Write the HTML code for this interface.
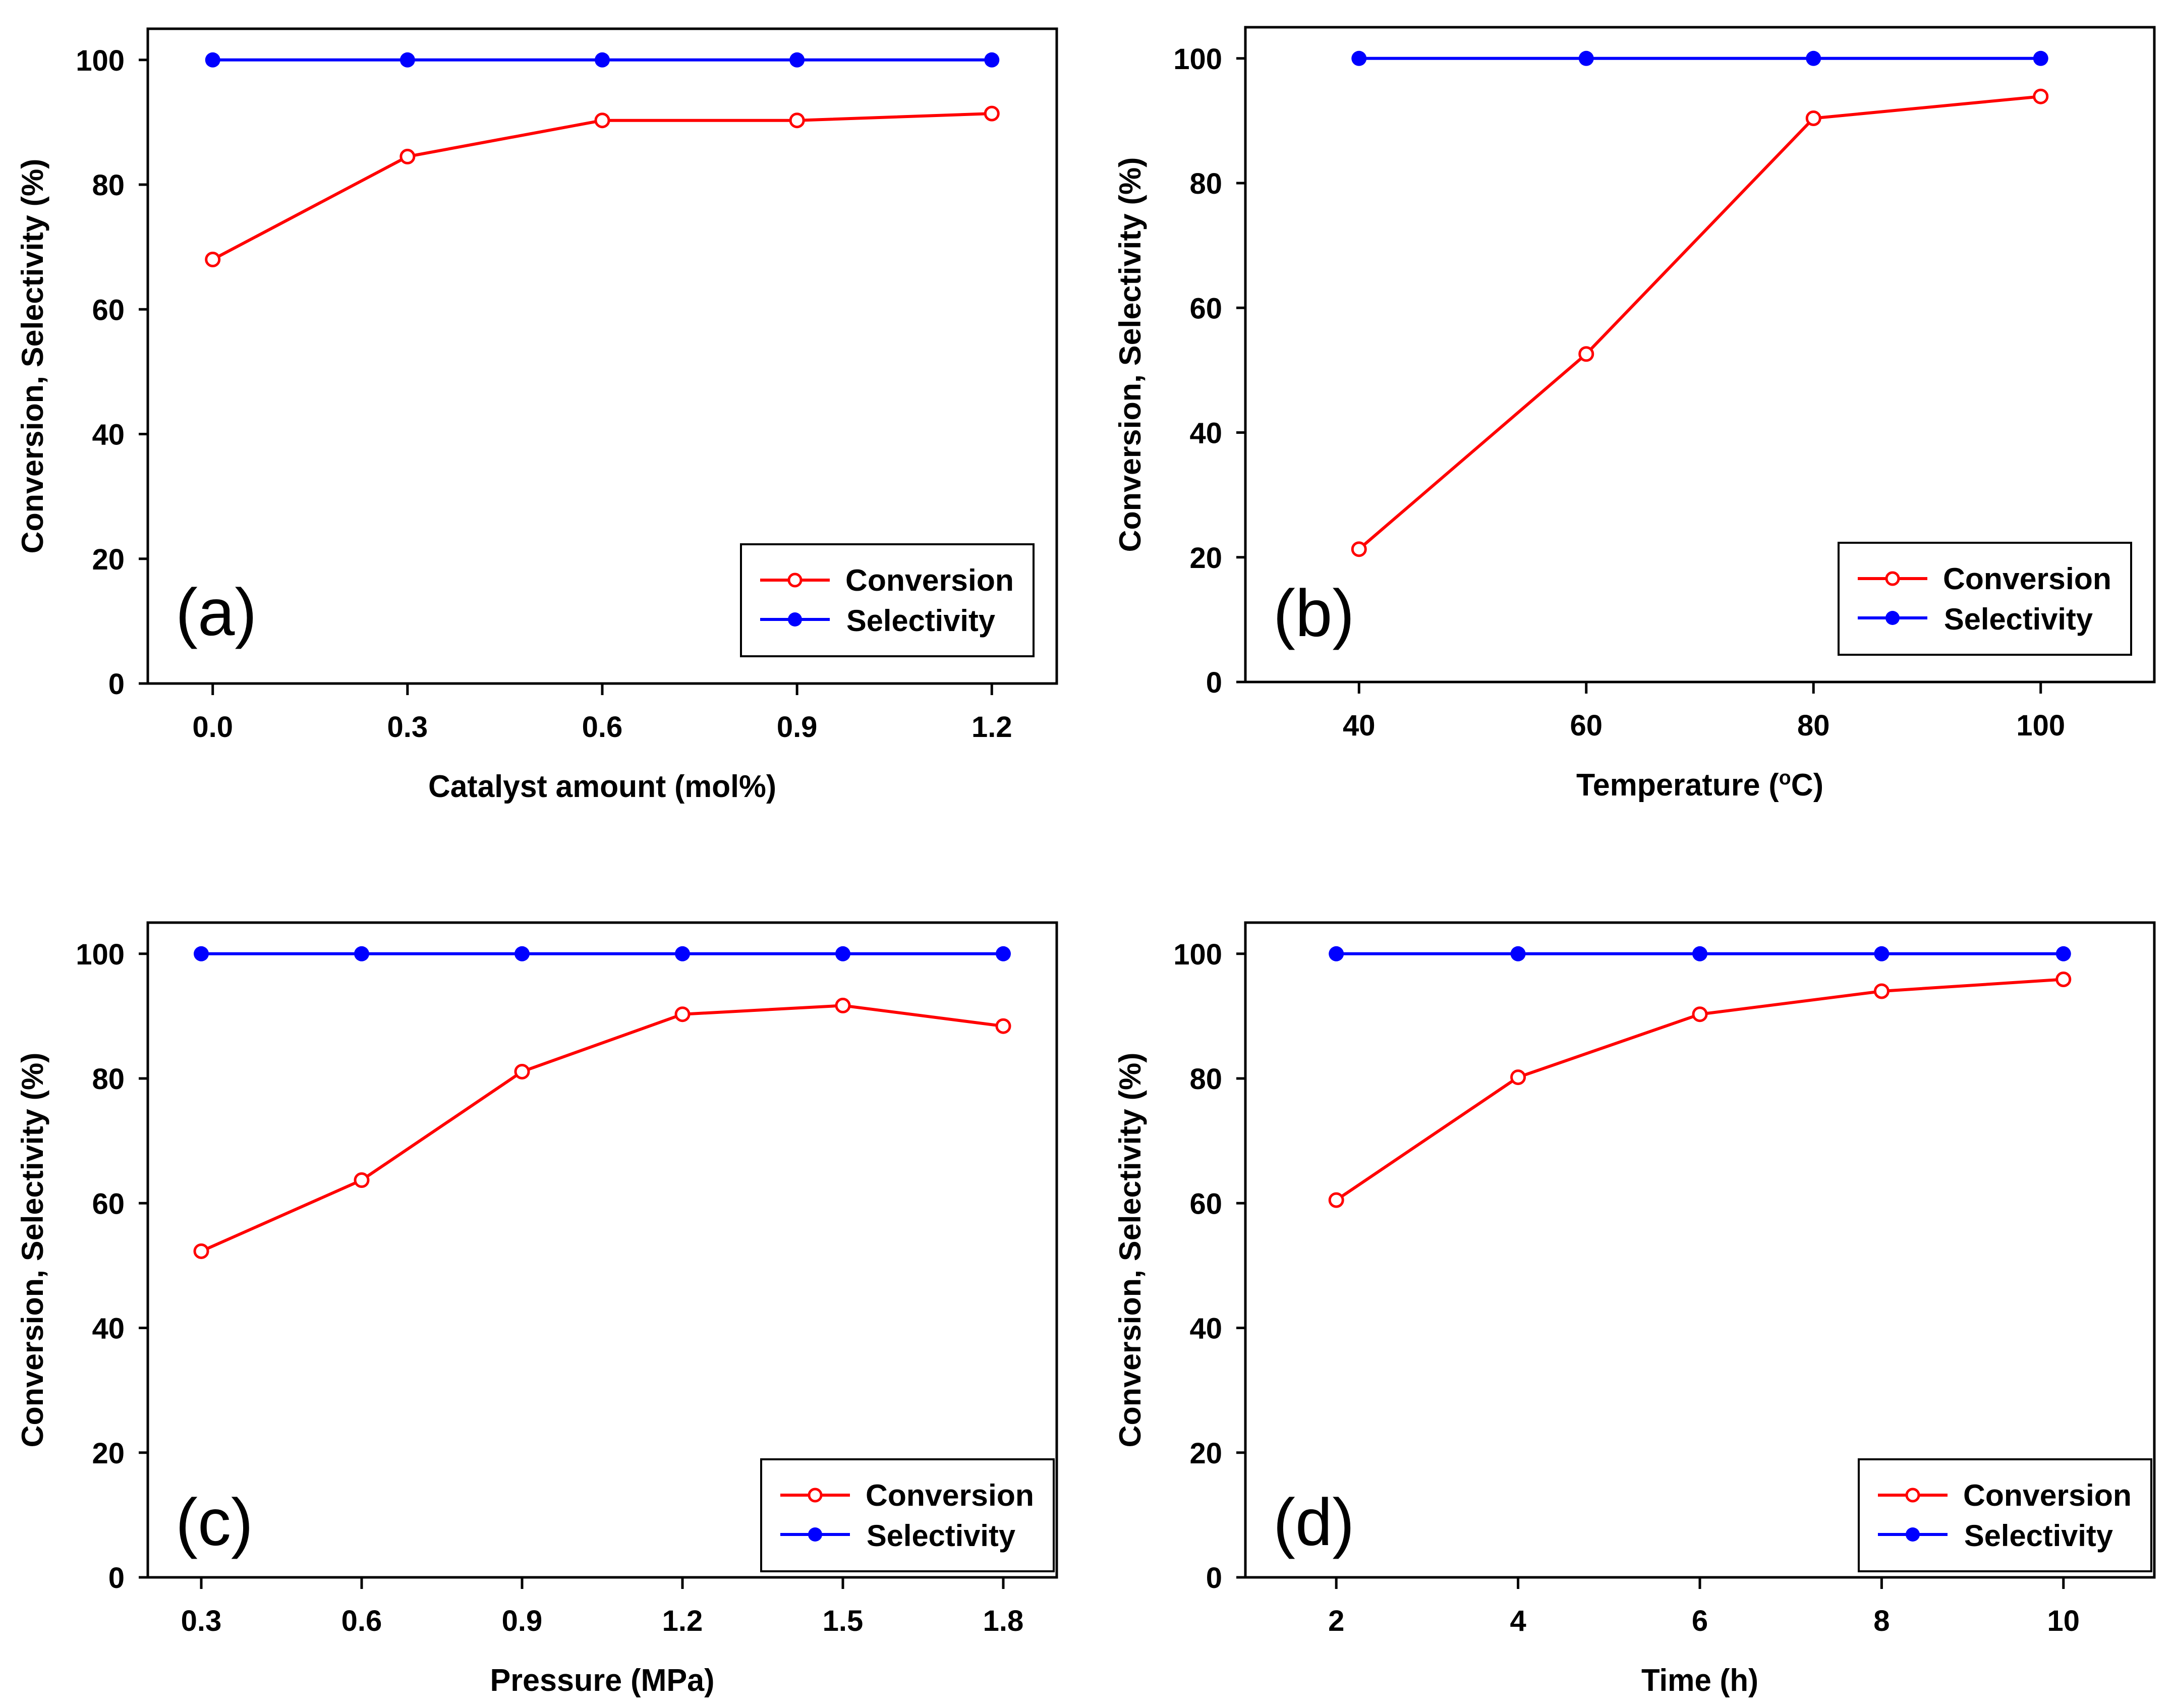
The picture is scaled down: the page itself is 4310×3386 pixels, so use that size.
<!DOCTYPE html>
<html><head><meta charset="utf-8">
<style>
html,body{margin:0;padding:0;background:#fff;}
svg{display:block;}
text{font-family:"Liberation Sans",Arial,sans-serif;}
</style></head>
<body>
<svg id="fig" width="4310" height="3386" viewBox="0 0 4310 3386" xmlns="http://www.w3.org/2000/svg"></svg>
<script>
// Panel (a)
const aCategories = [0.0, 0.3, 0.6, 0.9, 1.2];
const aConversion = [68, 84.5, 90.3, 90.3, 91.4];
const aSelectivity = [100, 100, 100, 100, 100];
const aTickLabels = ["0.0", "0.3", "0.6", "0.9", "1.2"];
// Panel (b)
const bCategories = [40, 60, 80, 100];
const bConversion = [21.3, 52.6, 90.4, 93.9];
const bSelectivity = [100, 100, 100, 100];
const bTickLabels = ["40", "60", "80", "100"];
// Panel (c)
const cCategories = [0.3, 0.6, 0.9, 1.2, 1.5, 1.8];
const cConversion = [52.3, 63.7, 81.1, 90.3, 91.7, 88.4];
const cSelectivity = [100, 100, 100, 100, 100, 100];
const cTickLabels = ["0.3", "0.6", "0.9", "1.2", "1.5", "1.8"];
// Panel (d)
const dCategories = [2, 4, 6, 8, 10];
const dConversion = [60.5, 80.2, 90.3, 94.0, 95.9];
const dSelectivity = [100, 100, 100, 100, 100];
const dTickLabels = ["2", "4", "6", "8", "10"];
const yTicks = [0, 20, 40, 60, 80, 100];
const yTickLabels = ["0", "20", "40", "60", "80", "100"];

const NS = "http://www.w3.org/2000/svg";
const svg = document.getElementById('fig');
function mk(tag, attrs, parent, txt) {
  const e = document.createElementNS(NS, tag);
  for (const k in attrs) e.setAttribute(k, attrs[k]);
  if (txt !== undefined) e.textContent = txt;
  parent.appendChild(e);
  return e;
}

function panel(p) {
  const L = p.left, T = p.top, R = p.left + 1802, B = p.top + 1298;
  const g = mk('g', {}, svg);
  
  
  const xs = v => L + (v - p.xmin) / (p.xmax - p.xmin) * (R - L);
  const ys = v => B - v / 105 * (B - T);

  yTicks.forEach((t, i) => {
    const tk = mk('line', {x1: L - 18, x2: L, y1: ys(t), y2: ys(t), stroke: '#000', 'stroke-width': 5}, g);
    
    
    const tl = mk('text', {x: L - 46, y: ys(t) + 21, 'font-size': 58, 'font-weight': 'bold', 'text-anchor': 'end'}, g, yTickLabels[i]);
    
    
  });
  p.cats.forEach((c, i) => {
    const tk = mk('line', {x1: xs(c), x2: xs(c), y1: B, y2: B + 23, stroke: '#000', 'stroke-width': 5}, g);
    
    
    const tl = mk('text', {x: xs(c), y: B + 106, 'font-size': 58, 'font-weight': 'bold', 'text-anchor': 'middle'}, g, p.labels[i]);
    
    
  });
  const fr = mk('rect', {x: L, y: T, width: R - L, height: B - T, fill: 'none', stroke: '#000', 'stroke-width': 5}, g);
  
  

  const sp = p.cats.map((c, i) => xs(c) + ',' + ys(p.sel[i])).join(' ');
  const sl = mk('polyline', {points: sp, fill: 'none', stroke: '#0000ff', 'stroke-width': 6}, g);
  
  
  p.cats.forEach((c, i) => {
    const m = mk('circle', {cx: xs(c), cy: ys(p.sel[i]), r: 15, fill: '#0000ff'}, g);
    
    
  });
  const cp = p.cats.map((c, i) => xs(c) + ',' + ys(p.conv[i])).join(' ');
  const cl = mk('polyline', {points: cp, fill: 'none', stroke: '#ff0000', 'stroke-width': 6}, g);
  
  
  p.cats.forEach((c, i) => {
    const m = mk('circle', {cx: xs(c), cy: ys(p.conv[i]), r: 13, fill: '#fff', stroke: '#ff0000', 'stroke-width': 5}, g);
    
    
  });

  const yt = mk('text', {x: 0, y: 0, 'font-size': 60, 'font-weight': 'bold', 'text-anchor': 'middle', textLength: 783, lengthAdjust: 'spacingAndGlyphs', transform: `translate(${L - 208},${(T + B) / 2}) rotate(-90)`}, g, 'Conversion, Selectivity (%)');
  
  
  const xt = mk('text', {x: (L + R) / 2, y: B + 225, 'font-size': 62, 'font-weight': 'bold', 'text-anchor': 'middle', textLength: p.xtLen, lengthAdjust: 'spacingAndGlyphs'}, g);
  
  
  if (p.degree) {
    xt.appendChild(document.createTextNode('Temperature ('));
    mk('tspan', {'font-size': 40, dy: -22}, xt, 'o');
    mk('tspan', {dy: 22}, xt, 'C)');
  } else {
    xt.textContent = p.xtitle;
  }

  const pl = mk('text', {x: L + 55, y: B - 96 + p.labDy, 'font-size': 132, 'text-anchor': 'start'}, g, '(' + p.id + ')');
  
  

  const lx = L + 1176 + p.legDx, ly = T + 1022 + p.legDy;
  const lg = mk('g', {}, g);
  
  
  mk('rect', {x: lx, y: ly, width: 580, height: 222, fill: '#fff', stroke: '#000', 'stroke-width': 4}, lg);
  const e1 = mk('g', {}, lg);
  
  
  mk('line', {x1: lx + 38, x2: lx + 176, y1: ly + 71, y2: ly + 71, stroke: '#ff0000', 'stroke-width': 6}, e1);
  mk('circle', {cx: lx + 107, cy: ly + 71, r: 12, fill: '#fff', stroke: '#ff0000', 'stroke-width': 5}, e1);
  mk('text', {x: lx + 207, y: ly + 92, 'font-size': 60, 'font-weight': 'bold', textLength: 334, lengthAdjust: 'spacingAndGlyphs'}, e1, 'Conversion');
  const e2 = mk('g', {}, lg);
  
  
  mk('line', {x1: lx + 38, x2: lx + 176, y1: ly + 149, y2: ly + 149, stroke: '#0000ff', 'stroke-width': 6}, e2);
  mk('circle', {cx: lx + 107, cy: ly + 149, r: 14, fill: '#0000ff'}, e2);
  mk('text', {x: lx + 209, y: ly + 172, 'font-size': 60, 'font-weight': 'bold', textLength: 295, lengthAdjust: 'spacingAndGlyphs'}, e2, 'Selectivity');
}

panel({id: 'a', left: 293, top: 57, xmin: -0.1, xmax: 1.3, cats: aCategories, conv: aConversion, sel: aSelectivity, labels: aTickLabels, xtitle: 'Catalyst amount (mol%)', xtLen: 690, legDx: 0, legDy: 0, labDy: 0});
panel({id: 'b', left: 2469, top: 54, xmin: 30, xmax: 110, cats: bCategories, conv: bConversion, sel: bSelectivity, labels: bTickLabels, degree: true, xtLen: 490, legDx: 0, legDy: 0, labDy: 5});
panel({id: 'c', left: 293, top: 1829, xmin: 0.2, xmax: 1.9, cats: cCategories, conv: cConversion, sel: cSelectivity, labels: cTickLabels, xtitle: 'Pressure (MPa)', xtLen: 445, legDx: 40, legDy: 42, labDy: 32});
panel({id: 'd', left: 2469, top: 1829, xmin: 1, xmax: 11, cats: dCategories, conv: dConversion, sel: dSelectivity, labels: dTickLabels, xtitle: 'Time (h)', xtLen: 232, legDx: 40, legDy: 42, labDy: 32});
</script>
</body></html>
